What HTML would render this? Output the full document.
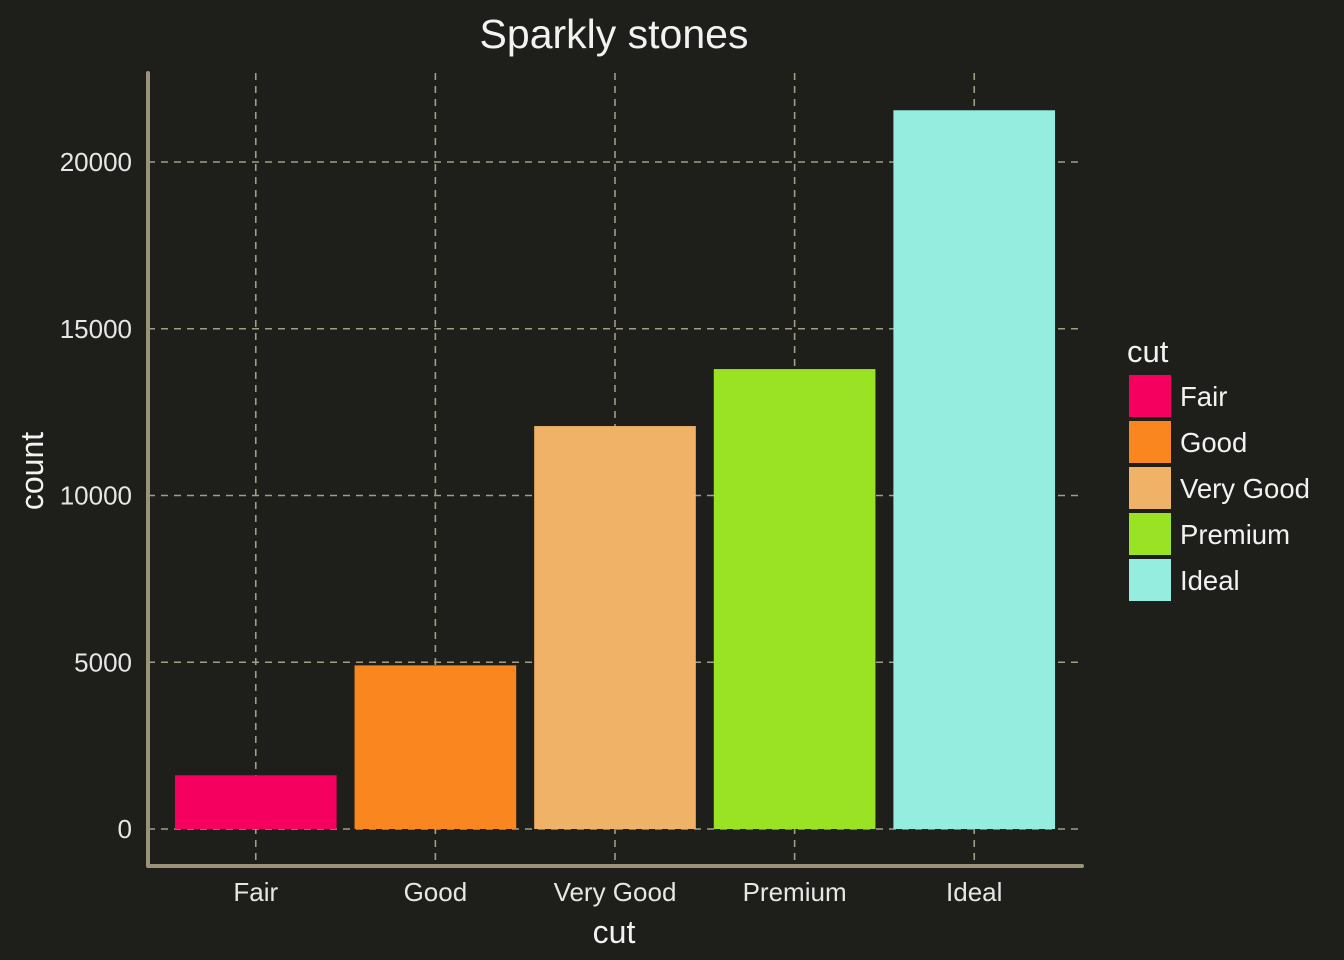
<!DOCTYPE html>
<html><head><meta charset="utf-8"><style>
html,body{margin:0;padding:0;background:#1e1e1b;}
svg{display:block;font-family:"Liberation Sans",Arial,sans-serif;}
</style></head><body>
<svg id="chart" width="1344" height="960" viewBox="0 0 1344 960">
<rect width="1344" height="960" fill="#1e1e1b"/>
<text x="614" y="48" text-anchor="middle" font-size="41" fill="#f2f2f2">Sparkly stones</text>
<g id="grid"></g>
<g id="bars"></g>
<g id="axes"></g>
<text x="614" y="943" text-anchor="middle" font-size="32" fill="#f2f2f2">cut</text>
<text transform="translate(43,471) rotate(-90)" text-anchor="middle" font-size="32" fill="#f2f2f2">count</text>
<g id="legend">
<text x="1127" y="362" font-size="31" fill="#f2f2f2">cut</text>
</g>
</svg>
<script>
const categories = ["Fair","Good","Very Good","Premium","Ideal"];
const counts = [1610, 4906, 12082, 13791, 21551];
const colors = ["#f5005f","#fa861f","#f0b266","#9ae224","#95ede0"];
const yTicks = [0, 5000, 10000, 15000, 20000];

const NS = "http://www.w3.org/2000/svg";
const pLeft = 148, pRight = 1082, pTop = 73, pBottom = 866;
const y0 = 829, yPerUnit = (829 - 162) / 20000;
const step = (pRight - pLeft) / (categories.length + 0.2);
function xPos(i){ return pLeft + step * (0.6 + i); }
function yPos(v){ return y0 - v * yPerUnit; }
function mk(tag, attrs, parent){
  const e = document.createElementNS(NS, tag);
  for (const k in attrs) e.setAttribute(k, attrs[k]);
  parent.appendChild(e); return e;
}
const gridG = document.getElementById("grid"), barsG = document.getElementById("bars"), axesG = document.getElementById("axes"), legendG = document.getElementById("legend");
const gridStyle = {stroke:"#a19e85","stroke-width":1.6,"stroke-dasharray":"7,6"};
yTicks.forEach(t => {
  const l = mk("line", Object.assign({x1:pLeft, x2:pRight, y1:yPos(t), y2:yPos(t)}, gridStyle), gridG);
  
  
  const tx = mk("text", {x:132, y:yPos(t)+9, "text-anchor":"end", "font-size":26, fill:"#e6e6e6"}, axesG);
  tx.textContent = t;
  
  
});
categories.forEach((c, i) => {
  const l = mk("line", Object.assign({x1:xPos(i), x2:xPos(i), y1:pTop, y2:pBottom}, gridStyle), gridG);
  
  
  const w = step * 0.9;
  const r = mk("rect", {x:xPos(i)-w/2, y:yPos(counts[i]), width:w, height:yPos(0)-yPos(counts[i]), fill:colors[i]}, barsG);
  
  
  const tx = mk("text", {x:xPos(i), y:901, "text-anchor":"middle", "font-size":26, fill:"#e6e6e6"}, axesG);
  tx.textContent = c;
  
  
  const k = mk("rect", {x:1129, y:375 + i*46, width:42, height:42, fill:colors[i]}, legendG);
  
  
  const lt = mk("text", {x:1180, y:406 + i*46, "font-size":27.5, fill:"#f2f2f2"}, legendG);
  lt.textContent = c;
  
  
});
const ax = mk("polyline", {points:`${pLeft},${pTop} ${pLeft},${pBottom} ${pRight},${pBottom}`, fill:"none", stroke:"#9a937a", "stroke-width":4, "stroke-linejoin":"round", "stroke-linecap":"round"}, axesG);


</script>
</body></html>
